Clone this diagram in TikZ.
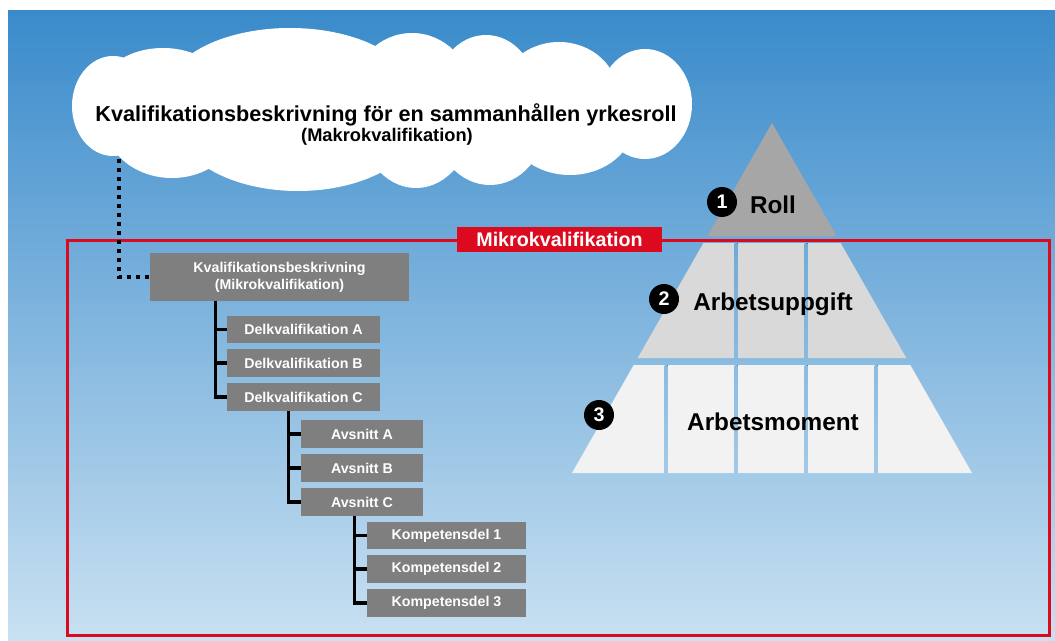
\documentclass[tikz,border=0pt]{standalone}
\usepackage{fontspec}
\setmainfont{Liberation Sans}
\definecolor{bgtop}{HTML}{3A8BCB}
\definecolor{bgbot}{HTML}{C9E1F2}
\definecolor{mikrored}{HTML}{DC0A1E}
\definecolor{boxgray}{HTML}{7F7F7F}
\definecolor{tierone}{HTML}{A6A6A6}
\definecolor{tiertwo}{HTML}{D9D9D9}
\definecolor{tierthree}{HTML}{F2F2F2}
\tikzset{
  tbox/.style={fill=boxgray,text=white,inner sep=0pt,minimum height=6.9mm,
    font=\bfseries\fontsize{10.1}{12.1}\selectfont},
  tline/.style={line width=2.35pt},
  dotline/.style={line width=1mm,dash pattern=on 1mm off 1.25mm},
  numdot/.style={circle,fill=black,text=white,inner sep=0pt,minimum size=7.5mm,
    font=\bfseries\fontsize{14}{16}\selectfont},
  tierlabel/.style={anchor=base,font=\bfseries\fontsize{17.3}{20}\selectfont},
}
\begin{document}
\begin{tikzpicture}[x=0.25mm,y=-0.25mm]
\fill[white] (0,0) rectangle (1055,641);
\useasboundingbox (0,0) rectangle (1055,641);
\fill[top color=bgtop,bottom color=bgbot] (8,11) rectangle (1055,641);
\draw[mikrored,line width=0.75mm] (67,240) rectangle (1049,635);
\node[fill=mikrored,text=white,inner sep=0pt,minimum width=51.25mm,minimum height=6.25mm,
  font=\bfseries\fontsize{14}{16}\selectfont] (mikro) at (559.5,239.5) {Mikrokvalifikation};
% cloud
\coordinate (macrofoot) at (119,150);
\node[tbox,minimum width=64.75mm,minimum height=12mm,align=center] (kval) at (279.5,277)
  {Kvalifikationsbeskrivning\\(Mikrokvalifikation)};
\draw[dotline] (macrofoot) |- (kval.west);
\foreach \cx/\cy/\rx/\ry in {113/106/41/50,645/104/47/55,163/95/65/47,290/95/125/67,
  412/95/60/62,486/95/51/60,559/95/59/53,172/120/68/58,298/120/123/71,416/120/56/68,
  490/120/56/65,570/120/65/55}
  \fill[white] (\cx,\cy) ellipse[x radius=\rx,y radius=\ry];
\fill[white] (110,90) rectangle (660,130);
\node[anchor=base,font=\bfseries\fontsize{15.4}{18}\selectfont] (macrotitle) at (386,122)
  {Kvalifikationsbeskrivning för en sammanhållen yrkesroll};
\node[anchor=base,font=\bfseries\fontsize{13}{15}\selectfont] (macrosub) at (387,142)
  {(Makrokvalifikation)};
% tree
\node[tbox,minimum width=38.25mm] (delA) at (303.5,329.5) {Delkvalifikation A};
\node[tbox,minimum width=38.25mm] (delB) at (303.5,363) {Delkvalifikation B};
\node[tbox,minimum width=38.25mm] (delC) at (303.5,397) {Delkvalifikation C};
\node[tbox,minimum width=30.5mm] (avA) at (362,434) {Avsnitt A};
\node[tbox,minimum width=30.5mm] (avB) at (362,468) {Avsnitt B};
\node[tbox,minimum width=30.5mm] (avC) at (362,502) {Avsnitt C};
\node[tbox,minimum width=39.75mm] (kompA) at (446.5,535.5) {Kompetensdel 1};
\node[tbox,minimum width=39.75mm] (kompB) at (446.5,569) {Kompetensdel 2};
\node[tbox,minimum width=39.75mm] (kompC) at (446.5,603) {Kompetensdel 3};
\draw[tline] (kval.south west) ++(66,0) |- (delC.west);
\draw[tline] (delA.west) -- ++(-12,0);
\draw[tline] (delB.west) -- ++(-12,0);
\draw[tline] (delC.south west) ++(62,0) |- (avC.west);
\draw[tline] (avA.west) -- ++(-13,0);
\draw[tline] (avB.west) -- ++(-13,0);
\draw[tline] (avC.south west) ++(54,0) |- (kompC.west);
\draw[tline] (kompA.west) -- ++(-13,0);
\draw[tline] (kompB.west) -- ++(-13,0);
% pyramid
\fill[tierone] (772,123) -- (836.6,236) -- (707.4,236) -- cycle;
\fill[tiertwo] (703.4,243) -- (840.6,243) -- (906.3,358) -- (637.7,358) -- cycle;
\fill[tierthree] (633.7,365) -- (910.3,365) -- (972,473) -- (572,473) -- cycle;
\foreach \dx in {736,806}
  \fill[top color=bgbot!37!bgtop,bottom color=bgbot!55!bgtop] (\dx-1.5,243) rectangle (\dx+1.5,358);
\foreach \dx in {666,736,806,876}
  \fill[top color=bgbot!56!bgtop,bottom color=bgbot!73!bgtop] (\dx-1.5,365) rectangle (\dx+1.5,473);
\node[numdot] (one) at (722,202) {1};
\node[numdot] (two) at (664,299) {2};
\node[numdot] (three) at (599,415) {3};
\node[tierlabel] (roll) at (773,213) {Roll};
\node[tierlabel] (uppgift) at (773,310) {Arbetsuppgift};
\node[tierlabel] (moment) at (773,430) {Arbetsmoment};
\end{tikzpicture}
\end{document}
